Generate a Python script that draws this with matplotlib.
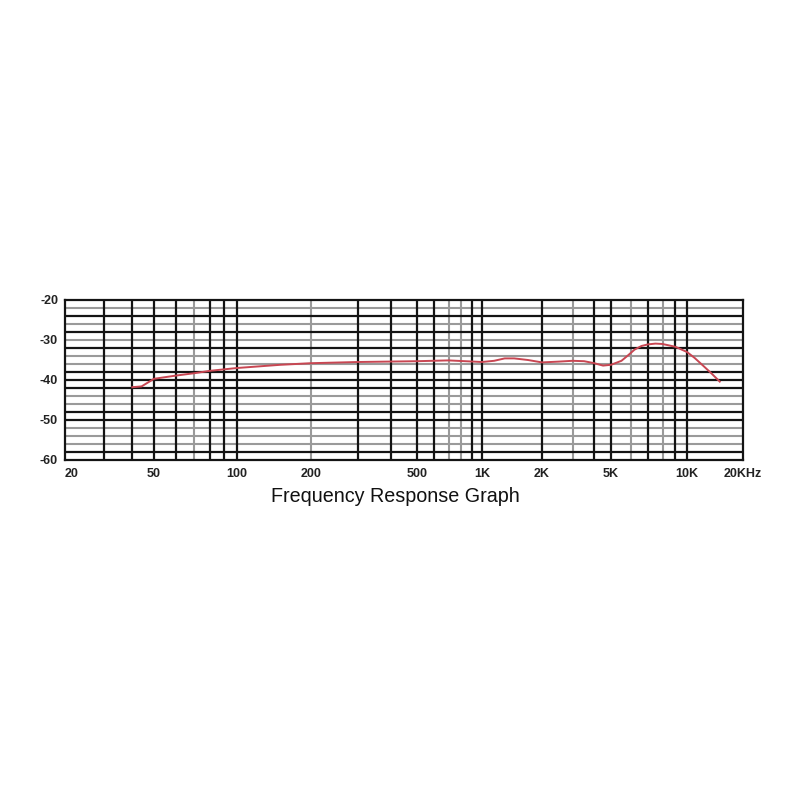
import numpy as np
import matplotlib
matplotlib.use("Agg")
import matplotlib.pyplot as plt
from matplotlib.ticker import FixedLocator

# ---- data ----
freq_hz = [40, 44, 50, 60, 70, 80, 100, 150, 200, 300, 500, 700, 1000, 1150,
           1300, 1450, 1700, 2000, 2500, 3000, 3500, 4000, 4500, 5000, 5500,
           5800, 6200, 6600, 7000, 7500, 8000, 9000, 10000, 11000, 12000,
           13500, 15000]
response_db = [-41.8, -41.6, -39.7, -38.9, -38.3, -37.7, -37.0, -36.2, -35.8,
               -35.5, -35.3, -35.1, -35.5, -35.2, -34.6, -34.6, -35.0, -35.6,
               -35.4, -35.2, -35.3, -35.8, -36.4, -36.2, -35.2, -34.0, -32.4,
               -31.5, -31.1, -30.9, -31.0, -31.7, -33.0, -34.5, -36.1, -38.3,
               -40.4]

x_label_freqs = [20, 50, 100, 200, 500, 1000, 2000, 5000, 10000, 20000]
x_labels = ["20", "50", "100", "200", "500", "1K", "2K", "5K", "10K", "20KHz"]
y_label_vals = [-20, -30, -40, -50, -60]
y_labels = ["-20", "-30", "-40", "-50", "-60"]

# vertical grid frequencies (dark / light as printed)
grid_dark_f = [30, 40, 50, 60, 80, 90, 100, 300, 400, 500, 600, 900, 1000,
               2000, 4000, 5000, 7000, 9000, 10000]
grid_light_f = [70, 200, 700, 800, 3000, 6000, 8000]
# horizontal grid levels
grid_dark_db = [-24, -28, -32, -38, -40, -42, -48, -50, -58]
grid_light_db = [-22, -26, -30, -34, -36, -44, -46, -52, -54, -56]

# ---- printed (slightly non-uniform) log frequency scale ----
_kf = np.log10(np.array(x_label_freqs, float))
_kp = np.array([65, 154, 237, 311, 417, 482, 542, 611, 687, 743], float)
_s0 = (_kp[1] - _kp[0]) / (_kf[1] - _kf[0])
_s1 = (_kp[-1] - _kp[-2]) / (_kf[-1] - _kf[-2])
KF = np.concatenate([[_kf[0] - 20], _kf, [_kf[-1] + 20]])
KP = np.concatenate([[_kp[0] - 20 * _s0], _kp, [_kp[-1] + 20 * _s1]])


def fwd(f):
    f = np.asarray(f, float)
    return np.interp(np.log10(np.maximum(f, 1e-12)), KF, KP)


def inv(p):
    p = np.asarray(p, float)
    return 10 ** np.interp(p, KP, KF)


fig = plt.figure(figsize=(8, 8), dpi=100)
ax = fig.add_axes([65 / 800, 1 - 460 / 800, (743 - 65) / 800, 160 / 800])
ax.set_xscale("function", functions=(fwd, inv))
ax.set_xlim(20, 20000)
ax.set_ylim(-60, -20)

dark = "#141414"
light = "#9a9a9a"
for f in grid_light_f:
    ax.axvline(f, color=light, lw=1.5, zorder=1)
for d in grid_light_db:
    ax.axhline(d, color=light, lw=1.5, zorder=1)
for f in grid_dark_f:
    ax.axvline(f, color=dark, lw=1.6, zorder=2)
for d in grid_dark_db:
    ax.axhline(d, color=dark, lw=1.6, zorder=2)

ax.plot(freq_hz, response_db, color="#c84652", lw=1.4, zorder=3,
        solid_joinstyle="round")

ax.xaxis.set_major_locator(FixedLocator(x_label_freqs))
ax.xaxis.set_minor_locator(FixedLocator([]))
ax.set_xticklabels(x_labels)
ax.yaxis.set_major_locator(FixedLocator(y_label_vals))
ax.yaxis.set_minor_locator(FixedLocator([]))
ax.set_yticklabels(y_labels)

fam = ["Liberation Sans", "DejaVu Sans"]
ax.tick_params(axis="both", length=0, labelsize=9, colors="#222222")
ax.tick_params(axis="x", pad=6)
ax.tick_params(axis="y", pad=5)
for lab in ax.get_xticklabels() + ax.get_yticklabels():
    lab.set_family(fam)
    lab.set_fontweight("bold")
xl = ax.get_xticklabels()
xl[0].set_horizontalalignment("left")

for sp in ax.spines.values():
    sp.set_linewidth(1.6)
    sp.set_color(dark)

fig.text(395 / 800, 1 - 496 / 800, "Frequency Response Graph", ha="center",
         va="center", fontsize=14.2, family=fam, color="#111111")

fig.savefig("out.png", dpi=100, facecolor="white")
